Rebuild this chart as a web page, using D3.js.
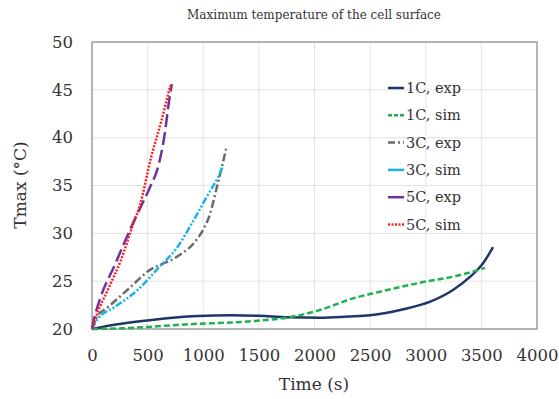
<!DOCTYPE html>
<html>
<head>
<meta charset="utf-8">
<script src="https://cdn.jsdelivr.net/npm/d3@7"></script>
<style>
  body { margin: 0; background: #fff; }
  svg text { font-family: "DejaVu Serif", serif; fill: #333; }
  .grid line { stroke: #e3e3e3; stroke-width: 1; }
  .axis path, .axis line { display: none; }
</style>
</head>
<body>
<div id="chart"></div>
<script>
// values: [time s, Tmax °C]
const exp1C = [[0,20],[230,20.5],[500,20.9],[950,21.35],[1250,21.43],[1500,21.38],[1760,21.22],[2050,21.18],[2300,21.3],[2500,21.43],[2800,22.06],[3040,22.86],[3245,24.08],[3400,25.47],[3515,26.87],[3605,28.55]];
const sim1C = [[0,20],[260,20.07],[860,20.49],[1465,20.84],[1760,21.2],[2050,21.99],[2346,23.2],[2590,23.9],[2950,24.84],[3310,25.64],[3533,26.4]];
const exp3C = [[0,20],[40,21.2],[145,22.3],[325,24.15],[500,26.0],[770,27.6],[925,29.1],[1000,30.4],[1060,32.0],[1120,34.7],[1168,36.97],[1205,38.85]];
const sim3C = [[0,20],[55,21.1],[205,22.3],[410,24.08],[590,26.3],[770,28.6],[900,31.1],[1040,34.0],[1150,36.3],[1178,37.1]];
const exp5C = [[0,20],[10,20.6],[80,23.4],[205,26.7],[350,30.6],[440,32.8],[520,34.8],[600,37.2],[655,40.5],[690,43.6],[718,45.6]];
const sim5C = [[0,20],[50,21.7],[150,24.3],[260,27.2],[380,31.3],[430,32.9],[530,37.9],[620,41.6],[705,45.5]];

const xTicks = [0, 500, 1000, 1500, 2000, 2500, 3000, 3500, 4000];
const yTicks = [20, 25, 30, 35, 40, 45, 50];

const seriesNames = ['1C, exp', '1C, sim', '3C, exp', '3C, sim', '5C, exp', '5C, sim'];
const seriesData = [exp1C, sim1C, exp3C, sim3C, exp5C, sim5C];
const seriesColors = ['#1f3669', '#1fb14e', '#6b6b6b', '#1ab2ec', '#7030a0', '#ff1f1f'];
const seriesDash = [null, '6,3', '8,3,2,3', '7,2,2,2,2,2', '13,5', '2,1.5'];

const width = 559, height = 399;
const margin = { left: 92, top: 42, right: 22, bottom: 70 };

const svg = d3.select('#chart').append('svg')
    .attr('width', width)
    .attr('height', height);

const x = d3.scaleLinear().domain([0, 4000]).range([margin.left, width - margin.right]);
const y = d3.scaleLinear().domain([20, 50]).range([height - margin.bottom, margin.top]);

// grid
svg.append('g').attr('class', 'grid')
    .selectAll('line').data(xTicks).enter().append('line')
    .attr('x1', d => x(d)).attr('x2', d => x(d))
    .attr('y1', y(50)).attr('y2', y(20));
svg.append('g').attr('class', 'grid')
    .selectAll('line').data(yTicks).enter().append('line')
    .attr('x1', x(0)).attr('x2', x(4000))
    .attr('y1', d => y(d)).attr('y2', d => y(d));

// frame
svg.append('rect')
    .attr('x', x(0)).attr('y', y(50))
    .attr('width', x(4000) - x(0)).attr('height', y(20) - y(50))
    .attr('fill', 'none').attr('stroke', '#a0a0a0').attr('stroke-width', 1.5);

// axes
svg.append('g').attr('class', 'axis')
    .attr('transform', `translate(0,${y(20)})`)
    .call(d3.axisBottom(x).tickValues(xTicks).tickFormat(d3.format('d')).tickSize(0).tickPadding(20))
    .selectAll('text').style('font-size', '16.5px').style('font-family', '"DejaVu Serif", serif').attr('fill', '#2b2b2b');
svg.append('g').attr('class', 'axis')
    .attr('transform', `translate(${x(0)},0)`)
    .call(d3.axisLeft(y).tickValues(yTicks).tickSize(0).tickPadding(19))
    .selectAll('text').style('font-size', '16.5px').style('font-family', '"DejaVu Serif", serif').attr('fill', '#2b2b2b');

// lines
const line = d3.line().x(d => x(d[0])).y(d => y(d[1])).curve(d3.curveMonotoneX);
svg.append('g')
    .selectAll('path').data(seriesData).enter()
    .append('path')
    .attr('d', line)
    .attr('fill', 'none')
    .attr('stroke', (d, i) => seriesColors[i])
    .attr('stroke-width', 2.5)
    .attr('stroke-dasharray', (d, i) => seriesDash[i]);

// legend
const legend = svg.append('g').attr('transform', 'translate(388,88)');
const rows = legend.selectAll('g').data(seriesNames).enter().append('g')
    .attr('transform', (d, i) => `translate(0,${i * 27.3})`);
rows.append('line')
    .attr('x1', 0).attr('x2', 16).attr('y1', 0).attr('y2', 0)
    .attr('stroke', (d, i) => seriesColors[i])
    .attr('stroke-width', 2.5)
    .attr('stroke-dasharray', (d, i) => i === 2 ? '7,3,2,3' : i === 3 || i === 4 ? null : i === 1 ? '4,2' : seriesDash[i]);
rows.append('text')
    .attr('x', 18).attr('y', 5)
    .style('font-size', '14.5px')
    .text(d => d);

// titles
svg.append('text')
    .attr('x', 314).attr('y', 19)
    .attr('text-anchor', 'middle')
    .style('font-size', '12px')
    .attr('fill', '#222')
    .text('Maximum temperature of the cell surface');
svg.append('text')
    .attr('x', 314).attr('y', 390)
    .attr('text-anchor', 'middle')
    .style('font-size', '17px')
    .text('Time (s)');
svg.append('text')
    .attr('transform', 'translate(26,185) rotate(-90)')
    .attr('text-anchor', 'middle')
    .style('font-size', '17px')
    .text('Tmax (°C)');
</script>
</body>
</html>
